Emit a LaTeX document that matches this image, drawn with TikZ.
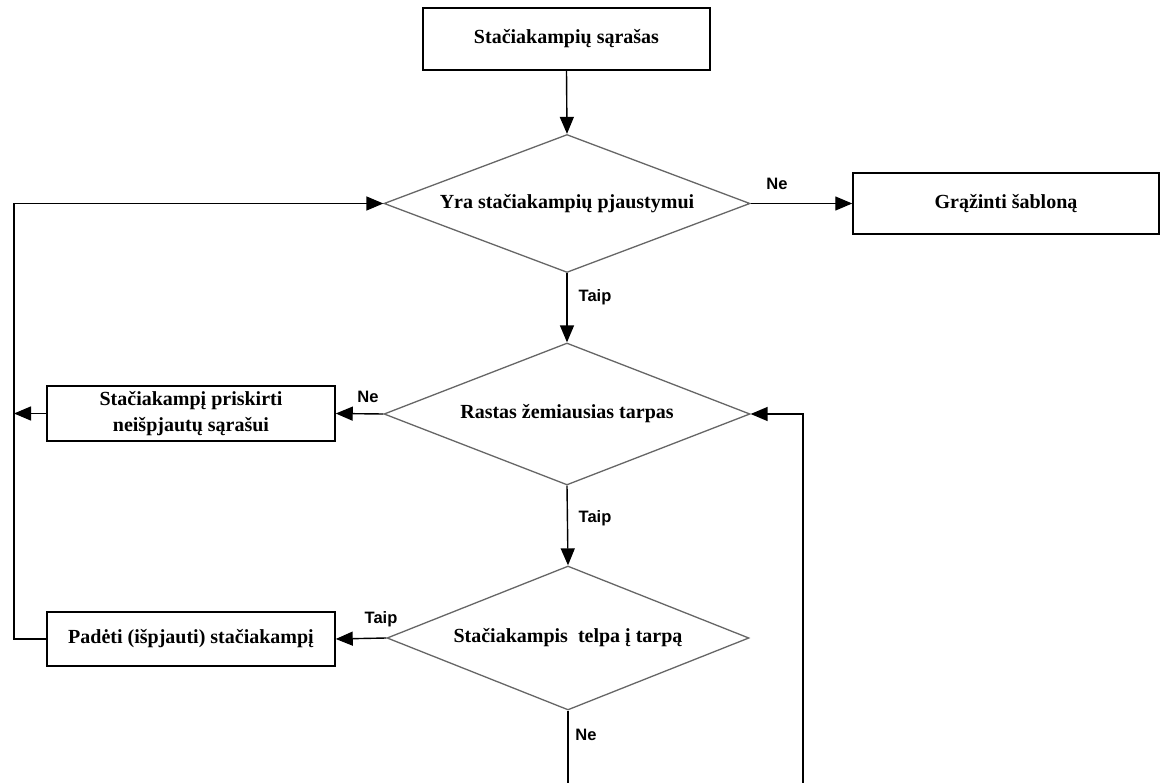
\documentclass[tikz,border=0pt]{standalone}
\usepackage{fontspec}
\setmainfont{Liberation Serif}
\newfontfamily\labelfont{Liberation Sans}
\usetikzlibrary{shapes.geometric,arrows.meta}

\begin{document}
\begin{tikzpicture}[x=1pt,y=-1pt,
  box/.style={draw=black, line width=1.5pt, fill=white, inner sep=0pt,
    align=center, font=\bfseries\fontsize{20}{26}\selectfont},
  decision/.style={diamond, aspect=2.65, draw=black!60, line width=1.3pt, inner sep=0pt,
    minimum width=366pt, minimum height=138pt,
    font=\bfseries\fontsize{20}{24}\selectfont},
  flow/.style={line width=1.4pt, -{Triangle[length=17pt,width=14pt]}},
  plain/.style={line width=1.4pt},
  lab/.style={font=\labelfont\bfseries\fontsize{16.5}{18}\selectfont, inner sep=0pt}]
\useasboundingbox[fill=white] (0,0) rectangle (1160,783);

% process boxes
\node[box, minimum width=287pt, minimum height=62pt] (list) at (566.5,39) {Stačiakampių sąrašas};
\node[box, minimum width=306pt, minimum height=61pt] (ret) at (1006,203.5) {Grąžinti šabloną};
\node[box, minimum width=288pt, minimum height=55pt] (assign) at (191,413.5)
  {Stačiakampį priskirti\\neišpjautų sąrašui};
\node[box, minimum width=288pt, minimum height=54pt] (place) at (191,639) {Padėti (išpjauti) stačiakampį};

% decisions
\node[decision] (d1) at (567,203.5) {Yra stačiakampių pjaustymui};
\node[decision, minimum height=142pt] (d2) at (567,414) {Rastas žemiausias tarpas};
\node[decision, minimum width=362pt, minimum height=144pt] (d3) at (568,638) {Stačiakampis\ \ telpa į tarpą};

% loop rails and open ends at the lower border
\coordinate (rail) at (14,0);
\coordinate (downend) at (568,783);
\coordinate (upstart) at (803,783);

% connectors
\draw[flow] (list.south) -- (d1.north);
\draw[flow] (d1.east) -- (ret.west);
\draw[flow] (d1.south) -- (d2.north);
\draw[flow] (d2.south) -- (d3.north);
\draw[flow] (d2.west) -- (assign.east);
\draw[flow] (d3.west) -- (place.east);
\draw[flow] (assign.west) -- (assign.west -| rail);
\draw[flow] (place.west) -- (place.west -| rail) |- (d1.west);
\draw[plain] (d3.south) -- (downend);
\draw[flow] (upstart) |- (d2.east);

% branch labels
\node[lab] (l1) at (777,184) {Ne};
\node[lab] (l2) at (595,297) {Taip};
\node[lab] (l3) at (368,397) {Ne};
\node[lab] (l4) at (595,518) {Taip};
\node[lab] (l5) at (381,619) {Taip};
\node[lab] (l6) at (586,735) {Ne};
\end{tikzpicture}
\end{document}
